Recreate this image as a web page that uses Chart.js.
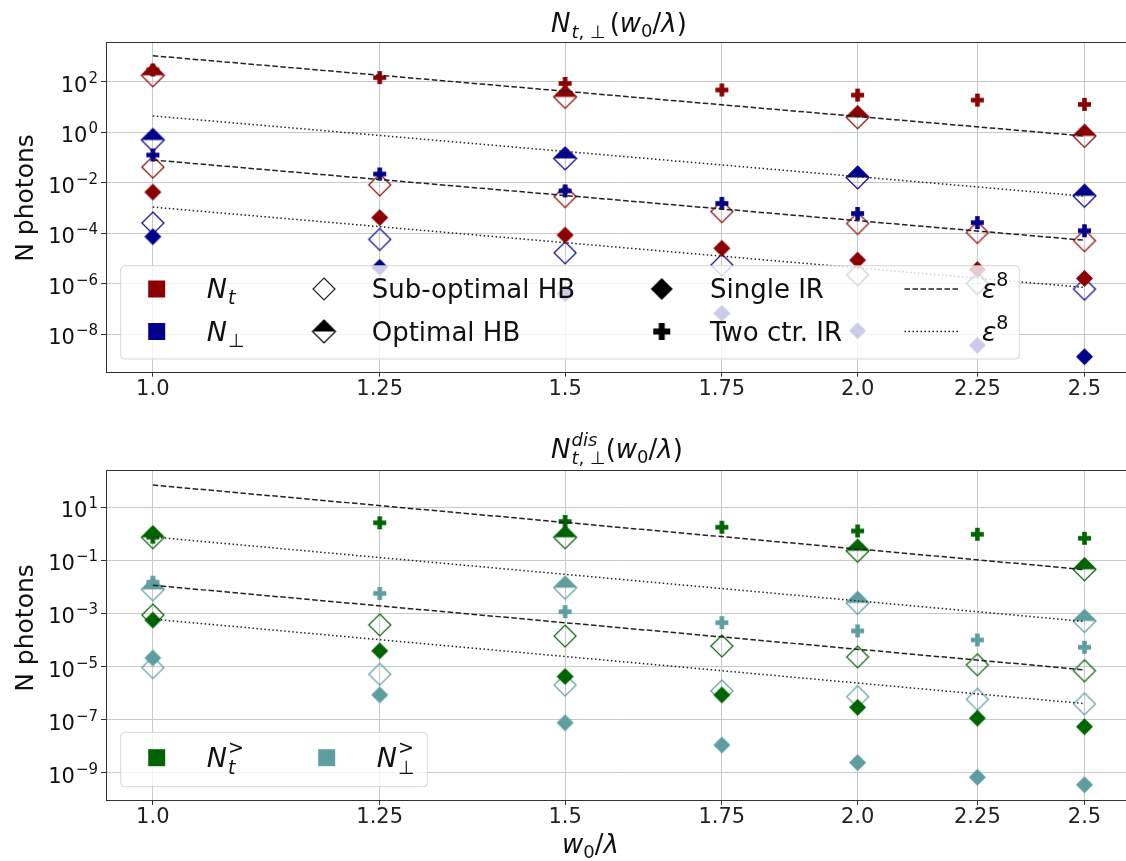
<!DOCTYPE html>
<html lang="en">
<head>
<meta charset="UTF-8" />
<title>N photons vs w0/lambda</title>
<script src="https://cdn.jsdelivr.net/npm/chart.js"></script>
<style>
  body { margin: 0; background: #fff; overflow: hidden; }
  canvas { position: absolute; left: 0; }
</style>
</head>
<body>
<canvas id="topChart" width="1140" height="420" style="top:0"></canvas>
<canvas id="bottomChart" width="1140" height="441" style="top:420px"></canvas>
<script>
// ---- data ----
const wRatio = [1.0, 1.25, 1.5, 1.75, 2.0, 2.25, 2.5];
const wRatioHB = [1.0, 1.5, 2.0, 2.5];
const xTickLabels = ['1.0', '1.25', '1.5', '1.75', '2.0', '2.25', '2.5'];
const lineX = [1.0, 2.5];

// top panel: N_t (red) and N_perp (blue)
const ntSubHB = [0.041, 0.0081, 2.8e-3, 7.1e-4, 2.4e-4, 1.05e-4, 5.0e-5];
const ntOptHB = [180, 25, 3.9, 0.71];
const ntSingle = [4.2e-3, 4.1e-4, 8.3e-5, 2.5e-5, 8.5e-6, 3.6e-6, 1.6e-6];
const ntTwo = [290, 145, 85, 47, 29.5, 18.7, 12.6];
const npSubHB = [2.5e-4, 5.6e-5, 1.66e-5, 5.4e-6, 2.2e-6, 1.0e-6, 6.0e-7];
const npOptHB = [0.49, 0.091, 0.016, 3.0e-3];
const npSingle = [7.2e-5, 4.4e-6, 4.0e-7, 6.6e-8, 1.35e-8, 3.6e-9, 1.26e-9];
const npTwo = [0.124, 0.022, 4.7e-3, 1.5e-3, 6.0e-4, 2.6e-4, 1.24e-4];
const topDashA = [1070, 0.70];
const topDotA = [4.4, 2.9e-3];
const topDashB = [0.079, 5.2e-5];
const topDotB = [1.07e-3, 7.0e-7];
const topYTicks = [1e2, 1e0, 1e-2, 1e-4, 1e-6, 1e-8];

// bottom panel: N_t^> (green) and N_perp^> (teal)
const gtSubHB = [8.7e-4, 3.7e-4, 1.4e-4, 5.9e-5, 2.3e-5, 1.16e-5, 6.9e-6];
const gtOptHB = [0.74, 0.74, 0.23, 0.046];
const gtSingle = [5.6e-4, 3.9e-5, 4.2e-6, 8.5e-7, 2.9e-7, 1.13e-7, 5.4e-8];
const gtTwo = [0.75, 2.6, 2.9, 1.77, 1.28, 0.96, 0.68];
const tpSubHB = [9.1e-6, 5.1e-6, 2.0e-6, 1.2e-6, 7.3e-7, 5.8e-7, 3.9e-7];
const tpOptHB = [8.1e-3, 9.3e-3, 2.5e-3, 5.2e-4];
const tpSingle = [2.1e-5, 8.5e-7, 7.6e-8, 1.1e-8, 2.4e-9, 6.7e-10, 3.5e-10];
const tpTwo = [0.015, 5.7e-3, 1.17e-3, 4.5e-4, 2.2e-4, 1.0e-4, 5.3e-5];
const botDashA = [69, 0.045];
const botDotA = [0.76, 5.0e-4];
const botDashB = [0.0115, 7.5e-6];
const botDotB = [6.1e-4, 4.0e-7];
const botYTicks = [1e1, 1e-1, 1e-3, 1e-5, 1e-7, 1e-9];

// ---- styling ----
const RED = '#8b0000', BLUE = '#00008b', GREEN = '#006400', TEAL = '#5f9ea0';
const FONT = '"DejaVu Sans", sans-serif';
const DASH = [5.5, 2.5];
const DOT = [1.5, 2.5];

function font(size, italic) {
  return (italic ? 'italic ' : '') + size + 'px ' + FONT;
}

// marker images
function markerCanvas(size, draw) {
  const c = document.createElement('canvas');
  c.width = size; c.height = size;
  draw(c.getContext('2d'), size / 2);
  return c;
}
function diamondPath(g, c, r) {
  g.beginPath();
  g.moveTo(c, c - r); g.lineTo(c + r, c); g.lineTo(c, c + r); g.lineTo(c - r, c);
  g.closePath();
}
function openDiamond(color, r) {
  return markerCanvas(2 * r + 4, (g, c) => {
    diamondPath(g, c, r); g.strokeStyle = color; g.lineWidth = 1.2; g.stroke();
  });
}
function halfDiamond(color, r) {
  return markerCanvas(2 * r + 4, (g, c) => {
    g.beginPath(); g.moveTo(c - r, c); g.lineTo(c, c - r); g.lineTo(c + r, c); g.closePath();
    g.fillStyle = color; g.fill();
    diamondPath(g, c, r); g.strokeStyle = color; g.lineWidth = 1.2; g.stroke();
  });
}
function fullDiamond(color, r) {
  return markerCanvas(2 * r + 4, (g, c) => {
    diamondPath(g, c, r); g.fillStyle = color; g.fill();
  });
}
function plusMarker(color, s, t) {
  return markerCanvas(s + 4, (g, c) => {
    g.fillStyle = color;
    g.fillRect(c - t / 2, c - s / 2, t, s);
    g.fillRect(c - s / 2, c - t / 2, s, t);
  });
}

function pts(xs, ys) { return xs.map((x, i) => ({ x: x, y: ys[i] })); }
function markers(xs, ys, style, order) {
  return { data: pts(xs, ys), pointStyle: style, pointRadius: 6, pointHoverRadius: 6,
           showLine: false, order: order };
}
function fitLine(ys, dash) {
  return { data: pts(lineX, ys), showLine: true, pointRadius: 0, borderColor: '#222',
           borderWidth: 1.5, borderDash: dash, fill: false, order: 0 };
}
function seriesSets(color, sub, opt, single, two) {
  return [
    markers(wRatio, sub, openDiamond(color, 11), 4),
    markers(wRatioHB, opt, halfDiamond(color, 11.5), 3),
    markers(wRatio, single, fullDiamond(color, 8.5), 2),
    markers(wRatio, two, plusMarker(color, 13, 4.6), 1),
  ];
}

// text with sub/superscripts: parts drawn left to right
function mathText(ctx, x, y, parts) {
  let cx = x;
  for (const p of parts) {
    if (p.sup) {
      const w1 = mathText(ctx, cx, y - p.rise, p.sup);
      const w2 = mathText(ctx, cx, y + p.drop, p.sub);
      cx += Math.max(w1, w2);
    } else {
      ctx.font = font(p.s, p.i);
      ctx.fillText(p.t, cx, y + (p.dy || 0));
      cx += ctx.measureText(p.t).width + (p.gap || 0);
    }
  }
  return cx - x;
}

const xMin = 0.955, xMax = 2.617;

function scales(yMin, yMax, yTicks, xHeight) {
  const grid = { color: '#c9c9c9', lineWidth: 1, tickLength: 5, tickColor: '#333', tickWidth: 1 };
  return {
    x: {
      type: 'logarithmic', bounds: 'data', min: xMin, max: xMax,
      afterBuildTicks: s => { s.ticks = wRatio.map(v => ({ value: v })); },
      afterFit: s => { s.height = xHeight; },
      ticks: { callback: (v, i) => xTickLabels[i], font: { family: 'DejaVu Sans', size: 21 },
               color: '#222', padding: 0, maxRotation: 0, autoSkip: false },
      grid: grid, border: { display: false }
    },
    y: {
      type: 'logarithmic', bounds: 'data', min: yMin, max: yMax,
      afterBuildTicks: s => { s.ticks = yTicks.map(v => ({ value: v })); },
      afterFit: s => { s.width = 106; },
      ticks: { display: false },
      grid: grid, border: { display: false }
    }
  };
}

// draws frame, y labels, titles, legend
function decorPlugin(opts) {
  return {
    id: 'decor',
    afterDatasetsDraw(chart) {
      const ctx = chart.ctx, a = chart.chartArea;
      ctx.save();
      // legend box (over data, like matplotlib framealpha 0.8)
      const L = opts.legend;
      ctx.beginPath();
      ctx.roundRect(L.x0, L.y0, L.x1 - L.x0, L.y1 - L.y0, 4);
      ctx.fillStyle = 'rgba(255,255,255,0.8)';
      ctx.fill();
      ctx.strokeStyle = 'rgba(204,204,204,0.8)';
      ctx.lineWidth = 1;
      ctx.stroke();
      // frame
      ctx.strokeStyle = '#333';
      ctx.strokeRect(Math.round(a.left) + 0.5, Math.round(a.top) + 0.5,
                     Math.round(a.right - a.left), Math.round(a.bottom - a.top));
      ctx.fillStyle = '#111';
      ctx.textBaseline = 'alphabetic';
      // y tick labels 10^n
      const ys = chart.scales.y;
      opts.yTicks.forEach(v => {
        const py = ys.getPixelForValue(v);
        const e = Math.round(Math.log10(v));
        const ex = (e < 0 ? '\u2212' : '') + Math.abs(e);
        ctx.font = font(15, false);
        const we = ctx.measureText(ex).width;
        ctx.font = font(21, false);
        const wb = ctx.measureText('10').width;
        const right = a.left - 8;
        ctx.fillText('10', right - we - wb - 1, py + 10);
        ctx.font = font(15, false);
        ctx.fillText(ex, right - we, py + 1);
      });
      // y axis title
      ctx.save();
      ctx.translate(33, opts.yTitleY);
      ctx.rotate(-Math.PI / 2);
      ctx.textAlign = 'center';
      ctx.font = font(25, false);
      ctx.fillText('N photons', 0, 0);
      ctx.restore();
      // title
      mathText(ctx, opts.titleX, opts.titleY, opts.title);
      if (opts.xTitle) mathText(ctx, opts.xTitle.x, opts.xTitle.y, opts.xTitle.parts);
      // legend entries
      L.entries.forEach(en => {
        if (en.square) {
          ctx.fillStyle = en.square;
          ctx.fillRect(en.hx - 8.5, en.hy - 8.5, 17, 17);
        } else if (en.img) {
          ctx.drawImage(en.img, en.hx - en.img.width / 2, en.hy - en.img.height / 2);
        } else if (en.dash) {
          ctx.strokeStyle = '#222';
          ctx.lineWidth = 1.5;
          ctx.setLineDash(en.dash);
          ctx.beginPath(); ctx.moveTo(en.hx - 27, en.hy); ctx.lineTo(en.hx + 27, en.hy); ctx.stroke();
          ctx.setLineDash([]);
        }
        ctx.fillStyle = '#111';
        mathText(ctx, en.tx, en.hy + 9, en.text);
      });
      ctx.restore();
    }
  };
}

function makeChart(id, datasets, sc, plugin, padTop) {
  return new Chart(document.getElementById(id), {
    type: 'scatter',
    data: { datasets: datasets },
    options: {
      responsive: false, animation: false, devicePixelRatio: 1, events: [],
      layout: { padding: { left: 0, right: 9, top: padTop, bottom: 0 } },
      plugins: { legend: { display: false }, tooltip: { enabled: false } },
      scales: sc
    },
    plugins: [plugin]
  });
}

const eps8 = [{ t: '\u03b5', s: 27, i: 1 }, { t: '8', s: 19, dy: -12 }];

// ---- top chart ----
makeChart('topChart',
  [fitLine(topDashA, DASH), fitLine(topDotA, DOT), fitLine(topDashB, DASH), fitLine(topDotB, DOT)]
    .concat(seriesSets(RED, ntSubHB, ntOptHB, ntSingle, ntTwo))
    .concat(seriesSets(BLUE, npSubHB, npOptHB, npSingle, npTwo)),
  scales(Math.pow(10, -9.494), Math.pow(10, 3.585), topYTicks, 48.3),
  decorPlugin({
    yTicks: topYTicks, yTitleY: 198, titleX: 551, titleY: 32,
    title: [{ t: 'N', s: 26, i: 1, gap: 1 }, { t: 't', s: 18, i: 1, dy: 6 }, { t: ', \u22a5', s: 18, dy: 6, gap: 4 },
            { t: '(', s: 26 }, { t: 'w', s: 26, i: 1 }, { t: '0', s: 18, dy: 5 }, { t: '/', s: 26 },
            { t: '\u03bb', s: 26, i: 1 }, { t: ')', s: 26 }],
    legend: {
      x0: 120.7, y0: 265.7, x1: 1019.3, y1: 359,
      entries: [
        { square: RED, hx: 156.7, hy: 289, tx: 206.7, text: [{ t: 'N', s: 27, i: 1, gap: 1 }, { t: 't', s: 19, i: 1, dy: 6 }] },
        { square: BLUE, hx: 156.7, hy: 331.5, tx: 206.7, text: [{ t: 'N', s: 27, i: 1, gap: 1 }, { t: '\u22a5', s: 19, dy: 6 }] },
        { img: openDiamond('#222', 11), hx: 324, hy: 289, tx: 371.7, text: [{ t: 'Sub-optimal HB', s: 26 }] },
        { img: halfDiamond('#000', 11.5), hx: 324, hy: 331.5, tx: 371.7, text: [{ t: 'Optimal HB', s: 26 }] },
        { img: fullDiamond('#000', 11), hx: 661.7, hy: 289, tx: 710, text: [{ t: 'Single IR', s: 26 }] },
        { img: plusMarker('#000', 17, 6), hx: 661.7, hy: 331.5, tx: 710, text: [{ t: 'Two ctr. IR', s: 26 }] },
        { dash: DASH, hx: 931.5, hy: 289, tx: 981.7, text: eps8 },
        { dash: DOT, hx: 931.5, hy: 331.5, tx: 981.7, text: eps8 }
      ]
    }
  }), 41.7);

// ---- bottom chart ----
makeChart('bottomChart',
  [fitLine(botDashA, DASH), fitLine(botDotA, DOT), fitLine(botDashB, DASH), fitLine(botDotB, DOT)]
    .concat(seriesSets(GREEN, gtSubHB, gtOptHB, gtSingle, gtTwo))
    .concat(seriesSets(TEAL, tpSubHB, tpOptHB, tpSingle, tpTwo)),
  scales(Math.pow(10, -10.03), Math.pow(10, 2.405), botYTicks, 61),
  decorPlugin({
    yTicks: botYTicks, yTitleY: 208, titleX: 551, titleY: 38,
    title: [{ t: 'N', s: 26, i: 1, gap: 1 },
            { sup: [{ t: 'dis', s: 18, i: 1 }], sub: [{ t: 't', s: 18, i: 1 }, { t: ', \u22a5', s: 18 }], rise: 12, drop: 6 },
            { t: '(', s: 26, gap: 0 }, { t: 'w', s: 26, i: 1 }, { t: '0', s: 18, dy: 5 }, { t: '/', s: 26 },
            { t: '\u03bb', s: 26, i: 1 }, { t: ')', s: 26 }],
    xTitle: { x: 562, y: 433, parts: [{ t: 'w', s: 26, i: 1 }, { t: '0', s: 18, dy: 5 }, { t: '/', s: 26 }, { t: '\u03bb', s: 26, i: 1 }] },
    legend: {
      x0: 120.7, y0: 312.3, x1: 427.3, y1: 366.7,
      entries: [
        { square: GREEN, hx: 156.7, hy: 337.7, tx: 206.7,
          text: [{ t: 'N', s: 27, i: 1, gap: 1 }, { sup: [{ t: '>', s: 19 }], sub: [{ t: 't', s: 19, i: 1 }], rise: 13, drop: 7 }] },
        { square: TEAL, hx: 326.7, hy: 337.7, tx: 376.7,
          text: [{ t: 'N', s: 27, i: 1, gap: 1 }, { sup: [{ t: '>', s: 19 }], sub: [{ t: '\u22a5', s: 19 }], rise: 13, drop: 7 }] }
      ]
    }
  }), 50);
</script>
</body>
</html>
